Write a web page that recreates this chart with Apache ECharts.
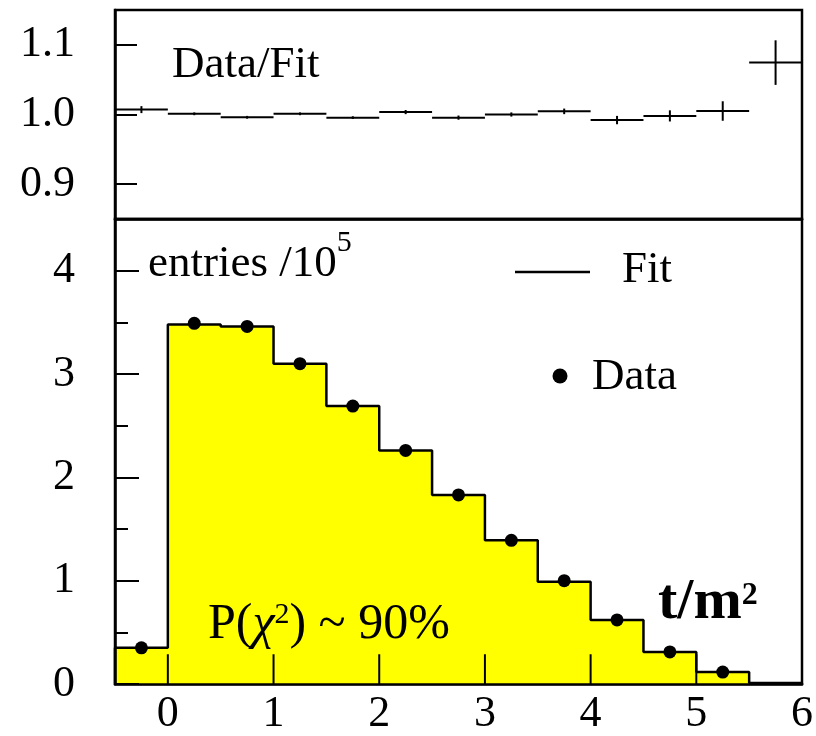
<!DOCTYPE html>
<html>
<head>
<meta charset="utf-8">
<script src="https://cdn.jsdelivr.net/npm/echarts@6/dist/echarts.min.js"></script>
<style>
  html, body { margin: 0; padding: 0; background: #ffffff; }
  #chart { width: 816px; height: 736px; }
</style>
</head>
<body>
<div id="chart"></div>
<script>
// Histogram bins in t/m^2 (13 bins of width 0.5)
const binEdges = [-0.5, 0, 0.5, 1, 1.5, 2, 2.5, 3, 3.5, 4, 4.5, 5, 5.5, 6];
// Fitted entries per bin, in units of 10^5
const fitValues = [0.35, 3.48, 3.46, 3.10, 2.69, 2.26, 1.83, 1.39, 0.99, 0.62, 0.31, 0.115, 0.01];
// Measured entries per bin, in units of 10^5
const dataValues = [0.35, 3.49, 3.46, 3.10, 2.69, 2.26, 1.83, 1.39, 1.00, 0.62, 0.31, 0.115];
// Data/Fit ratio per bin and its uncertainty
const ratioValues = [1.007, 1.001, 0.996, 1.001, 0.9955, 1.0035, 0.9955, 1.000, 1.0045, 0.992, 0.998, 1.005, 1.0745];
const ratioErrors = [0.005, 0.002, 0.002, 0.002, 0.002, 0.003, 0.003, 0.003, 0.004, 0.006, 0.008, 0.014, 0.032];
// Tick positions
const xTicks = [0, 1, 2, 3, 4, 5, 6];
const ratioTicks = [0.9, 1.0, 1.1];
const entryTicks = [0, 1, 2, 3, 4];
const entryMinorTicks = [0.5, 1.5, 2.5, 3.5];

const FONT = '"Liberation Serif", "Times New Roman", serif';
const INK = '#000000';

// Lower panel geometry
const LOWER_TOP = 219, LOWER_HEIGHT = 469, ENTRIES_MAX = 4.5;
const X_TICK_PX = 30;
const xTickSpan = X_TICK_PX * ENTRIES_MAX / LOWER_HEIGHT; // tick length in axis units

// Outline of the fitted histogram as a step polyline
const stepPoints = [[binEdges[0], 0]];
fitValues.forEach((v, i) => {
  stepPoints.push([binEdges[i], v]);
  stepPoints.push([binEdges[i + 1], v]);
});
stepPoints.push([binEdges[binEdges.length - 1], 0]);

// Data points at bin centres
const dataPoints = dataValues.map((v, i) => [(binEdges[i] + binEdges[i + 1]) / 2, v]);

// Ratio crosses: [lo, hi, value, error]
const ratioCrosses = ratioValues.map((v, i) => [binEdges[i], binEdges[i + 1], v, ratioErrors[i]]);

const chart = echarts.init(document.getElementById('chart'), null, { renderer: 'canvas' });

// Text helpers: place pieces of text on a common baseline, with superscripts
const measureCtx = document.createElement('canvas').getContext('2d');
function fontString(p) {
  return (p.style || 'normal') + ' ' + (p.weight || 'normal') + ' ' + p.size + 'px ' + FONT;
}
function textAt(p, x, baseline) {
  return {
    type: 'text',
    x: x,
    y: baseline - 0.84 * p.size,
    style: {
      text: p.text,
      fontFamily: FONT,
      fontSize: p.size,
      fontWeight: p.weight || 'normal',
      fontStyle: p.style || 'normal',
      fill: INK,
      align: 'left',
      verticalAlign: 'top',
      lineHeight: p.size
    },
    z: 100
  };
}
function runText(x, baseline, parts) {
  const els = [];
  let cx = x;
  parts.forEach(p => {
    els.push(textAt(p, cx, baseline - (p.rise || 0)));
    measureCtx.font = fontString(p);
    cx += measureCtx.measureText(p.text).width + (p.kern || 0);
  });
  return els;
}

const graphics = [].concat(
  runText(172, 80, [{ text: 'Data/Fit', size: 45 }]),
  runText(148, 279, [{ text: 'entries /10', size: 45 }, { text: '5', size: 30, rise: 26 }]),
  runText(622, 285, [{ text: 'Fit', size: 45 }]),
  runText(592, 392, [{ text: 'Data', size: 45 }]),
  runText(208, 642, [
    { text: 'P(', size: 50 },
    { text: '\u03C7', size: 50, style: 'italic' },
    { text: '2', size: 30, rise: 17 },
    { text: ') ~ 90%', size: 50 }
  ]),
  runText(658, 623, [
    { text: 't/m', size: 58, weight: 'bold' },
    { text: '2', size: 32, weight: 'bold', rise: 16 }
  ]),
  [
    { type: 'line', shape: { x1: 515, y1: 272, x2: 590, y2: 272 }, style: { stroke: INK, lineWidth: 2.5 }, z: 100 },
    { type: 'circle', shape: { cx: 560, cy: 376, r: 7.5 }, style: { fill: INK }, z: 100 }
  ]
);

const axisLineStyle = { show: true, onZero: false, lineStyle: { color: INK, width: 2.5 } };
const labelStyle = { color: INK, fontFamily: FONT, fontSize: 44 };

// Bottom-axis tick marks: one short vertical line series per tick, drawn above the fill
const xTickSeries = xTicks.map(v => ({
  name: 'tick ' + v,
  type: 'line',
  xAxisIndex: 1, yAxisIndex: 1,
  data: [[v, 0], [v, xTickSpan]],
  showSymbol: false, symbol: 'none',
  lineStyle: { color: INK, width: 2 },
  silent: true,
  clip: false,
  z: 4
}));

const option = {
  animation: false,
  backgroundColor: '#ffffff',
  grid: [
    { left: 115, top: 10, width: 687, height: 209, show: true, borderColor: INK, borderWidth: 2.5, backgroundColor: 'transparent' },
    { left: 115, top: LOWER_TOP, width: 687, height: LOWER_HEIGHT, show: true, borderColor: INK, borderWidth: 2.5, backgroundColor: 'transparent' }
  ],
  xAxis: [
    {
      gridIndex: 0, type: 'value', min: -0.5, max: 6, position: 'bottom', z: 10,
      axisLine: axisLineStyle, axisTick: { show: false }, axisLabel: { show: false }, splitLine: { show: false }
    },
    {
      gridIndex: 1, type: 'value', min: -0.5, max: 6, position: 'bottom', z: 10,
      axisLine: axisLineStyle,
      axisTick: { show: false },
      axisLabel: Object.assign({ customValues: xTicks, margin: 8, showMinLabel: true, showMaxLabel: true }, labelStyle),
      splitLine: { show: false }
    }
  ],
  yAxis: [
    {
      gridIndex: 0, type: 'value', min: 0.85, max: 1.15, position: 'left', z: 10,
      axisLine: axisLineStyle,
      axisTick: { show: true, inside: true, length: 22, customValues: ratioTicks, lineStyle: { color: INK, width: 2 } },
      axisLabel: Object.assign({ customValues: ratioTicks, margin: 40, formatter: v => v.toFixed(1) }, labelStyle),
      splitLine: { show: false }
    },
    {
      gridIndex: 1, type: 'value', min: 0, max: ENTRIES_MAX, position: 'left', z: 10,
      axisLine: axisLineStyle,
      axisTick: { show: true, inside: true, length: 24, customValues: entryTicks, lineStyle: { color: INK, width: 2 } },
      axisLabel: Object.assign({ customValues: entryTicks, margin: 40, formatter: v => String(Math.round(v)) }, labelStyle),
      splitLine: { show: false }
    },
    {
      gridIndex: 1, type: 'value', min: 0, max: ENTRIES_MAX, position: 'left', offset: 0, z: 10,
      axisLine: { show: false, onZero: false },
      axisTick: { show: true, inside: true, length: 13, customValues: entryMinorTicks, lineStyle: { color: INK, width: 2 } },
      axisLabel: { show: false },
      splitLine: { show: false }
    }
  ],
  series: [
    {
      name: 'Fit',
      type: 'line',
      xAxisIndex: 1, yAxisIndex: 1,
      data: stepPoints,
      showSymbol: false, symbol: 'none',
      lineStyle: { color: INK, width: 2.5 },
      itemStyle: { color: INK },
      areaStyle: { color: '#ffff00', opacity: 1 },
      z: 2
    },
    {
      name: 'Data',
      type: 'scatter',
      xAxisIndex: 1, yAxisIndex: 1,
      data: dataPoints,
      symbol: 'circle', symbolSize: 13,
      itemStyle: { color: INK, opacity: 1 },
      z: 5
    },
    {
      name: 'Data/Fit',
      type: 'custom',
      xAxisIndex: 0, yAxisIndex: 0,
      data: ratioCrosses,
      encode: { x: [0, 1], y: [2] },
      renderItem: function (params, api) {
        const lo = api.value(0), hi = api.value(1), v = api.value(2), e = api.value(3);
        const mid = (lo + hi) / 2;
        const pLo = api.coord([lo, v]);
        const pHi = api.coord([hi, v]);
        const pTop = api.coord([mid, v + e]);
        const pBot = api.coord([mid, v - e]);
        const s = { stroke: INK, lineWidth: 2 };
        return {
          type: 'group',
          children: [
            { type: 'line', shape: { x1: pLo[0], y1: pLo[1], x2: pHi[0], y2: pHi[1] }, style: s },
            { type: 'line', shape: { x1: pTop[0], y1: pTop[1], x2: pBot[0], y2: pBot[1] }, style: s }
          ]
        };
      },
      z: 5
    }
  ].concat(xTickSeries),
  graphic: graphics
};

chart.setOption(option);
</script>
</body>
</html>
